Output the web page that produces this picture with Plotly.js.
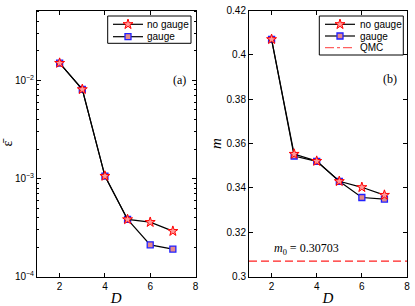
<!DOCTYPE html>
<html>
<head>
<meta charset="utf-8">
<script src="https://cdn.plot.ly/plotly-3.0.1.min.js"></script>
<style>html,body{margin:0;padding:0;background:#fff;}#chart{width:415px;height:306px;}</style>
</head>
<body>
<div id="chart"></div>
<script>
// Data
const D = [2, 3, 4, 5, 6, 7];
const epsNoGauge = [0.0150, 0.0081, 0.00106, 0.000383, 0.000359, 0.000291];
const epsGauge   = [0.0150, 0.0081, 0.00106, 0.000383, 0.000211, 0.000191];
const mNoGauge = [0.4070, 0.3553, 0.3521, 0.3430, 0.3403, 0.3368];
const mGauge   = [0.4070, 0.3544, 0.3520, 0.3430, 0.3357, 0.3350];
const qmcValue = 0.30703;
const qmcX = [1, 8];
const xTicks = [2, 4, 6, 8];
const epsTicks = [1e-4, 1e-3, 1e-2];
const epsTickText = ['10<sup>−4</sup>', '10<sup>−3</sup>', '10<sup>−2</sup>'];
const mTicks = [0.3, 0.32, 0.34, 0.36, 0.38, 0.4, 0.42];
const mTickText = ['0.3', '0.32', '0.34', '0.36', '0.38', '0.4', '0.42'];
const seriesNames = ['no gauge', 'gauge', 'QMC'];

const minorEps = [];
[1e-4, 1e-3, 1e-2].forEach(b => { for (let k = 2; k <= 9; k++) minorEps.push(b * k); });

const starMarker = {symbol: 'star', size: 7.5, color: '#ff9a9a', line: {color: '#ff0000', width: 1}};
const sqMarker = {symbol: 'square', size: 6, color: '#e58a8a', line: {color: '#2020ff', width: 1.3}};
const lineStyle = {color: '#000', width: 1.2};
const qmcColor = '#ff2020';

// Custom legend layout (pixel positions of the legend boxes)
const W = 415, H = 306;
const legends = [
  {box: [107.7, 16, 191, 43.3], rows: [24.3, 36.7], lineX: [113, 143], markX: 128, textX: 145, n: 2},
  {box: [319.3, 16, 403.3, 55], rows: [24.3, 36, 47.7], lineX: [325, 355], markX: 340, textX: 357.5, n: 3}
];
const px = x => x / W, py = y => 1 - y / H;

const traces = [
  {x: D, y: epsGauge, mode: 'lines+markers', name: 'gauge', line: lineStyle, marker: sqMarker, xaxis: 'x', yaxis: 'y'},
  {x: D, y: epsNoGauge, mode: 'lines+markers', name: 'no gauge', line: lineStyle, marker: starMarker, xaxis: 'x', yaxis: 'y'},
  {x: D, y: mGauge, mode: 'lines+markers', name: 'gauge', line: lineStyle, marker: sqMarker, xaxis: 'x2', yaxis: 'y2'},
  {x: D, y: mNoGauge, mode: 'lines+markers', name: 'no gauge', line: lineStyle, marker: starMarker, xaxis: 'x2', yaxis: 'y2'},
  {x: qmcX, y: [qmcValue, qmcValue], mode: 'lines', name: 'QMC', line: {color: qmcColor, width: 1.3, dash: '8px,4px'},
   xaxis: 'x2', yaxis: 'y2'}
];

const shapes = [];
const annotations = [];
const legendFont = {family: 'Liberation Sans, Arial, sans-serif', size: 10, color: '#000'};
legends.forEach(L => {
  shapes.push({type: 'rect', xref: 'paper', yref: 'paper', x0: px(L.box[0]), x1: px(L.box[2]), y0: py(L.box[1]), y1: py(L.box[3]),
    line: {color: '#000', width: 1}, fillcolor: '#fff', layer: 'below'});
  for (let i = 0; i < L.n; i++) {
    const isQ = i === 2;
    shapes.push({type: 'line', xref: 'paper', yref: 'paper', x0: px(L.lineX[0]), x1: px(L.lineX[1]), y0: py(L.rows[i]), y1: py(L.rows[i]),
      line: isQ ? {color: '#ff6060', width: 1.3, dash: 'dashdot'} : {color: '#000', width: 1.2}, layer: 'below'});
    annotations.push({xref: 'paper', yref: 'paper', x: px(L.textX), y: py(L.rows[i]), xanchor: 'left', yanchor: 'middle',
      text: seriesNames[i], showarrow: false, font: legendFont});
    if (!isQ) {
      traces.push({x: [L.markX], y: [L.rows[i]], mode: 'markers', marker: i === 0 ? starMarker : sqMarker,
        xaxis: 'x3', yaxis: 'y3', hoverinfo: 'skip', showlegend: false});
    }
  }
});

const tickFont = {family: 'Liberation Sans, Arial, sans-serif', size: 10, color: '#000'};
const serif = 'Liberation Serif, Times New Roman, serif';
const axCommon = {
  showgrid: false, zeroline: false, showline: true, linecolor: '#000', linewidth: 1,
  mirror: 'ticks', ticks: 'inside', ticklen: 4, tickcolor: '#000', tickfont: tickFont
};

const yDom = [1 - 276.7/306, 1 - 10.5/306];
annotations.push(
  {xref: 'x', yref: 'y', x: 7.31, y: -2, text: '(a)', showarrow: false, font: {family: serif, size: 12, color: '#000'}},
  {xref: 'x2', yref: 'y2', x: 7.25, y: 0.389, text: '(b)', showarrow: false, font: {family: serif, size: 12, color: '#000'}},
  {xref: 'x2', yref: 'y2', x: 3.53, y: 0.3125, text: '<i>m</i><sub>0</sub> = 0.30703', showarrow: false,
   font: {family: serif, size: 12, color: '#000'}}
);

const layout = {
  width: W, height: H,
  margin: {l: 0, r: 0, t: 0, b: 0},
  paper_bgcolor: '#fff', plot_bgcolor: 'rgba(0,0,0,0)',
  showlegend: false,
  xaxis: Object.assign({}, axCommon, {domain: [37/415, 195.5/415], range: [1, 8], tickmode: 'array', tickvals: xTicks,
    title: {text: '<i>D</i>', font: {family: serif, size: 15, color: '#000'}, standoff: 2}}),
  yaxis: Object.assign({}, axCommon, {domain: yDom, type: 'log', range: [-4, -1.288], tickmode: 'array',
    tickvals: epsTicks, ticktext: epsTickText,
    minor: {tickmode: 'array', tickvals: minorEps, ticks: 'inside', ticklen: 2, tickcolor: '#000', showgrid: false},
    title: {text: 'ε̄', font: {family: serif, size: 14, color: '#000'}, standoff: 8}}),
  xaxis2: Object.assign({}, axCommon, {domain: [249/415, 407/415], range: [1, 8], tickmode: 'array', tickvals: xTicks,
    anchor: 'y2',
    title: {text: '<i>D</i>', font: {family: serif, size: 15, color: '#000'}, standoff: 2}}),
  yaxis2: Object.assign({}, axCommon, {domain: yDom, range: [0.3, 0.42], tickmode: 'array', anchor: 'x2',
    tickvals: mTicks, ticktext: mTickText,
    title: {text: '<i>m</i>', font: {family: serif, size: 15, color: '#000'}, standoff: 1}}),
  xaxis3: {domain: [0, 1], range: [0, W], visible: false, anchor: 'y3', fixedrange: true},
  yaxis3: {domain: [0, 1], range: [H, 0], visible: false, anchor: 'x3', fixedrange: true},
  shapes: shapes,
  annotations: annotations
};

Plotly.newPlot('chart', traces, layout, {displayModeBar: false, staticPlot: true});
</script>
</body>
</html>
